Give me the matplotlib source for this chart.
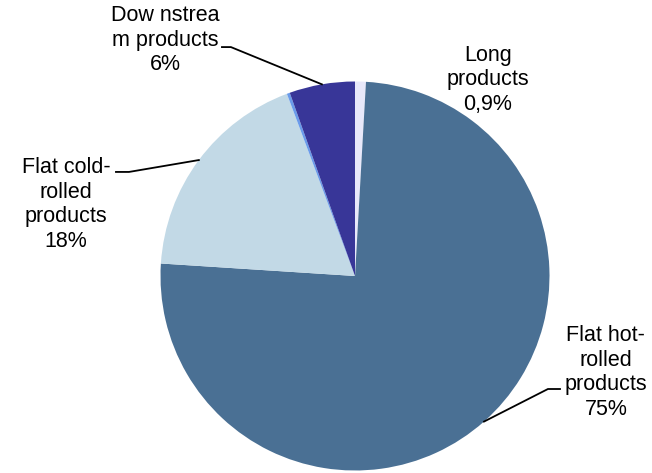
import matplotlib.pyplot as plt
import numpy as np

# Product mix shares (%), clockwise from 12 o'clock
categories = ['Long products', 'Flat hot-rolled products', 'Flat cold-rolled products',
              'Other', 'Downstream products']
shares = [0.9, 75.2, 18.3, 0.25, 5.45]
colors = ['#E8E8FA', '#4A7094', '#C2D9E6', '#6A9BEA', '#383698']

label_texts = {
    0: 'Long\nproducts\n0,9%',
    1: 'Flat hot-\nrolled\nproducts\n75%',
    2: 'Flat cold-\nrolled\nproducts\n18%',
    4: 'Dow nstrea\nm products\n6%',
}
# label centre, and where the leader line leaves the text (None = no leader)
label_pos = {
    0: ((0.684, 1.008), None),
    1: ((1.290, -0.496), [(1.054, -0.581), (0.992, -0.581)]),
    2: ((-1.486, 0.368), [(-1.229, 0.535), (-1.162, 0.535)]),
    4: ((-0.977, 1.213), [(-0.684, 1.177), (-0.638, 1.177)]),
}

plt.rcParams['font.family'] = ['Liberation Sans', 'DejaVu Sans']

fig = plt.figure(figsize=(6.52, 4.73), dpi=100)
ax = fig.add_axes([0, 0, 1, 1])

wedges, _ = ax.pie(shares, colors=colors, startangle=90, counterclock=False,
                   radius=1.0, wedgeprops=dict(linewidth=0))

for i, text in label_texts.items():
    (tx, ty), leader = label_pos[i]
    ax.text(tx, ty, text, ha='center', va='center', multialignment='center',
            fontsize=15.5, color='black', linespacing=1.22)
    if leader is not None:
        w = wedges[i]
        mid = np.deg2rad((w.theta1 + w.theta2) / 2)
        ax_pt = (np.cos(mid), np.sin(mid))
        xs = [leader[0][0], leader[1][0], ax_pt[0]]
        ys = [leader[0][1], leader[1][1], ax_pt[1]]
        ax.plot(xs, ys, color='black', linewidth=1.3)

ax.set_xlim(-355 / 194.5, (652 - 355) / 194.5)
ax.set_ylim(-(473 - 276) / 194.5, 276 / 194.5)
ax.set_aspect('auto')
ax.axis('off')

plt.savefig('out.png', dpi=100)
